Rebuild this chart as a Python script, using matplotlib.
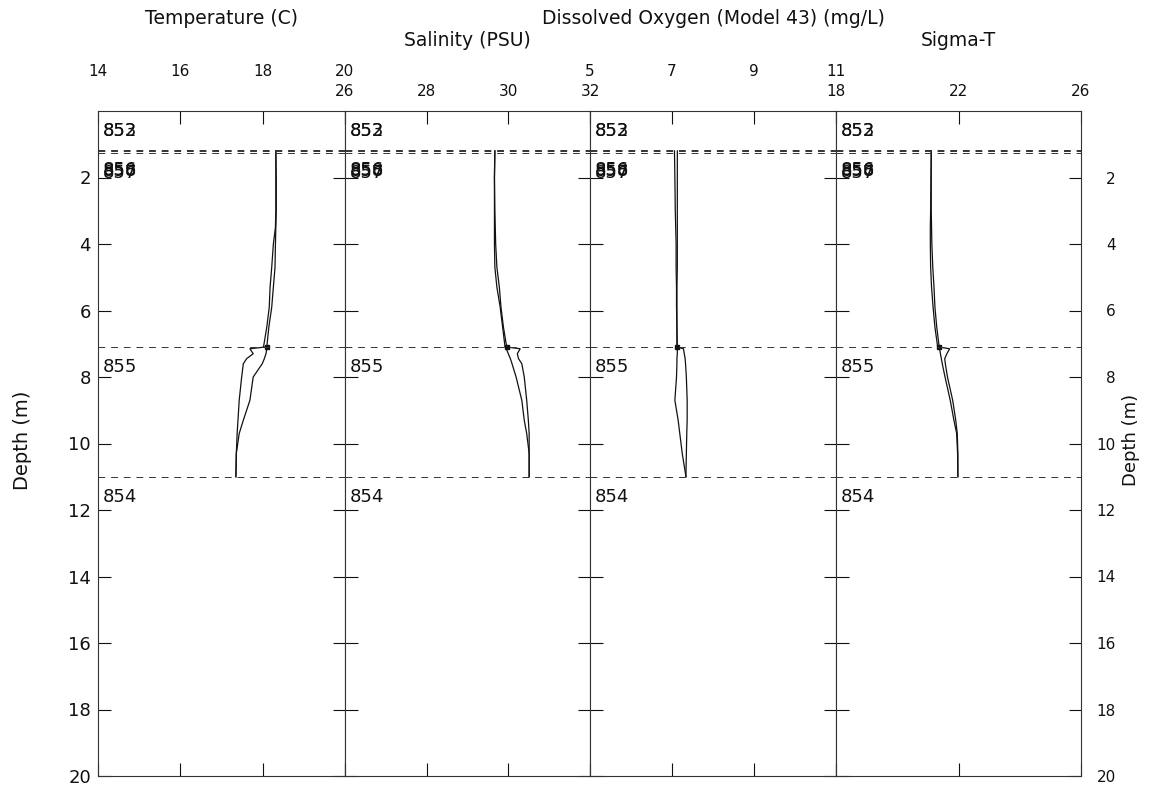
import matplotlib
matplotlib.use('Agg')
import matplotlib.pyplot as plt
from matplotlib.transforms import blended_transform_factory

# depth grids for the two cast segments (m)
upper_depth = [1.2, 2.0, 3.0, 3.5, 4.0, 4.7, 5.3, 5.9, 6.5, 7.1]
lower_depth = [7.1, 7.15, 7.3, 7.45, 7.6, 8.0, 8.7, 9.3, 9.7, 10.3, 11.0]

# temperature (C)
temp_up_a = [18.32, 18.32, 18.32, 18.31, 18.26, 18.22, 18.18, 18.16, 18.10, 18.02]
temp_up_b = [18.32, 18.33, 18.33, 18.32, 18.31, 18.30, 18.26, 18.22, 18.15, 18.10]
temp_lo_a = [18.05, 17.69, 17.77, 17.61, 17.53, 17.49, 17.43, 17.40, 17.38, 17.36, 17.35]
temp_lo_b = [18.10, 18.10, 18.08, 18.04, 17.99, 17.77, 17.69, 17.53, 17.43, 17.36, 17.35]

# salinity (PSU)
sal_up_a = [29.67, 29.66, 29.66, 29.66, 29.66, 29.67, 29.72, 29.80, 29.86, 29.92]
sal_up_b = [29.67, 29.66, 29.67, 29.68, 29.69, 29.72, 29.78, 29.82, 29.88, 29.96]
sal_lo_a = [29.92, 29.95, 30.00, 30.05, 30.09, 30.19, 30.33, 30.39, 30.45, 30.51, 30.51]
sal_lo_b = [29.96, 30.29, 30.22, 30.25, 30.33, 30.39, 30.45, 30.49, 30.51, 30.51, 30.51]

# dissolved oxygen (mg/L)
oxy_up_a = [7.06, 7.07, 7.08, 7.09, 7.10, 7.10, 7.11, 7.11, 7.12, 7.12]
oxy_up_b = [7.13, 7.13, 7.13, 7.13, 7.13, 7.13, 7.12, 7.12, 7.12, 7.13]
oxy_lo_a = [7.12, 7.13, 7.13, 7.12, 7.12, 7.11, 7.07, 7.15, 7.19, 7.25, 7.34]
oxy_lo_b = [7.12, 7.28, 7.30, 7.32, 7.33, 7.35, 7.37, 7.37, 7.36, 7.35, 7.34]

# sigma-t
sig_up_a = [21.11, 21.10, 21.09, 21.08, 21.08, 21.09, 21.12, 21.17, 21.23, 21.32]
sig_up_b = [21.11, 21.11, 21.11, 21.12, 21.13, 21.16, 21.20, 21.23, 21.29, 21.37]
sig_lo_a = [21.35, 21.38, 21.41, 21.44, 21.47, 21.56, 21.73, 21.85, 21.94, 21.97, 21.98]
sig_lo_b = [21.37, 21.71, 21.62, 21.55, 21.57, 21.64, 21.81, 21.91, 21.96, 21.98, 21.98]

# panel titles and axis ticks
titles = ['Temperature (C)', 'Salinity (PSU)', 'Dissolved Oxygen (Model 43) (mg/L)', 'Sigma-T']
temp_ticks = [14, 16, 18, 20]
sal_ticks = [26, 28, 30, 32]
oxy_ticks = [5, 7, 9, 11]
sig_ticks = [18, 22, 26]
depth_ticks = [2, 4, 6, 8, 10, 12, 14, 16, 18, 20]

# cast numbers and their start depth
cast_ids = ['852', '853', '856', '858', '857', '855', '854']
cast_depth = [0.0, 0.0, 1.17, 1.21, 1.25, 7.1, 11.0]

W, H = 1149, 792
fig = plt.figure(figsize=(W / 100, H / 100), dpi=100)
fig.patch.set_facecolor('white')

edges = [98, 345, 590, 836, 1081]
top_px, bot_px = 111, 776

panels = [
    (temp_ticks, [temp_up_a, temp_up_b], [temp_lo_a, temp_lo_b]),
    (sal_ticks, [sal_up_a, sal_up_b], [sal_lo_a, sal_lo_b]),
    (oxy_ticks, [oxy_up_a, oxy_up_b], [oxy_lo_a, oxy_lo_b]),
    (sig_ticks, [sig_up_a, sig_up_b], [sig_lo_a, sig_lo_b]),
]

line_col = '#111111'
for i, (ticks, ups, los) in enumerate(panels):
    ax = fig.add_axes([edges[i] / W, 1 - bot_px / H,
                       (edges[i + 1] - edges[i]) / W, (bot_px - top_px) / H])
    ax.set_xlim(ticks[0], ticks[-1])
    ax.set_ylim(20, 0)

    for x in ups:
        ax.plot(x, upper_depth, color=line_col, lw=0.9)
    for x in los:
        ax.plot(x, lower_depth, color=line_col, lw=0.9)
    ax.plot(ups[1][-1], upper_depth[-1], marker='s', ms=3.5, color=line_col)

    # cast start lines and labels
    tr = blended_transform_factory(ax.transAxes, ax.transData)
    for cid, d in zip(cast_ids, cast_depth):
        if d > 0:
            ax.axhline(d, color='#333333', lw=0.7, ls=(0, (7, 6)))
        ax.text(0.02, d + 0.6, cid, transform=tr, fontsize=13,
                ha='left', va='center', color='#111111')

    for sp in ax.spines.values():
        sp.set_linewidth(0.8)
        sp.set_color('#333333')

    ax.set_xticks(ticks)
    ax.set_xticklabels([str(t) for t in ticks])
    row_pad = 23 if i in (0, 2) else 9
    ax.tick_params(axis='x', direction='in', length=9.5, width=0.8,
                   top=True, bottom=True, labeltop=True, labelbottom=False,
                   labelsize=11, pad=row_pad, colors='#111111')

    ax.set_yticks(depth_ticks)
    ax.set_yticklabels([str(t) for t in depth_ticks])
    ax.tick_params(axis='y', direction='in', length=9, width=0.8,
                   left=True, right=True,
                   labelleft=(i == 0), labelright=(i == 3), colors='#111111')
    if i == 0:
        ax.tick_params(axis='y', labelsize=13, pad=5)
    if i == 3:
        ax.tick_params(axis='y', labelsize=11, pad=25)
        for t in ax.yaxis.get_major_ticks():
            t.label2.set_horizontalalignment('right')

# titles above the panels, alternating rows
title_rows = [19, 41, 19, 41]
for i, t in enumerate(titles):
    cx = (edges[i] + edges[i + 1]) / 2
    fig.text(cx / W, 1 - title_rows[i] / H, t, ha='center', va='center',
             fontsize=13.5, color='#111111')

fig.text(23 / W, 1 - 440 / H, 'Depth (m)', rotation=90, ha='center',
         va='center', fontsize=14, color='#111111')
fig.text(1131 / W, 1 - 440 / H, 'Depth (m)', rotation=90, ha='center',
         va='center', fontsize=13, color='#111111')

fig.savefig('out.png', dpi=100, facecolor='white')
